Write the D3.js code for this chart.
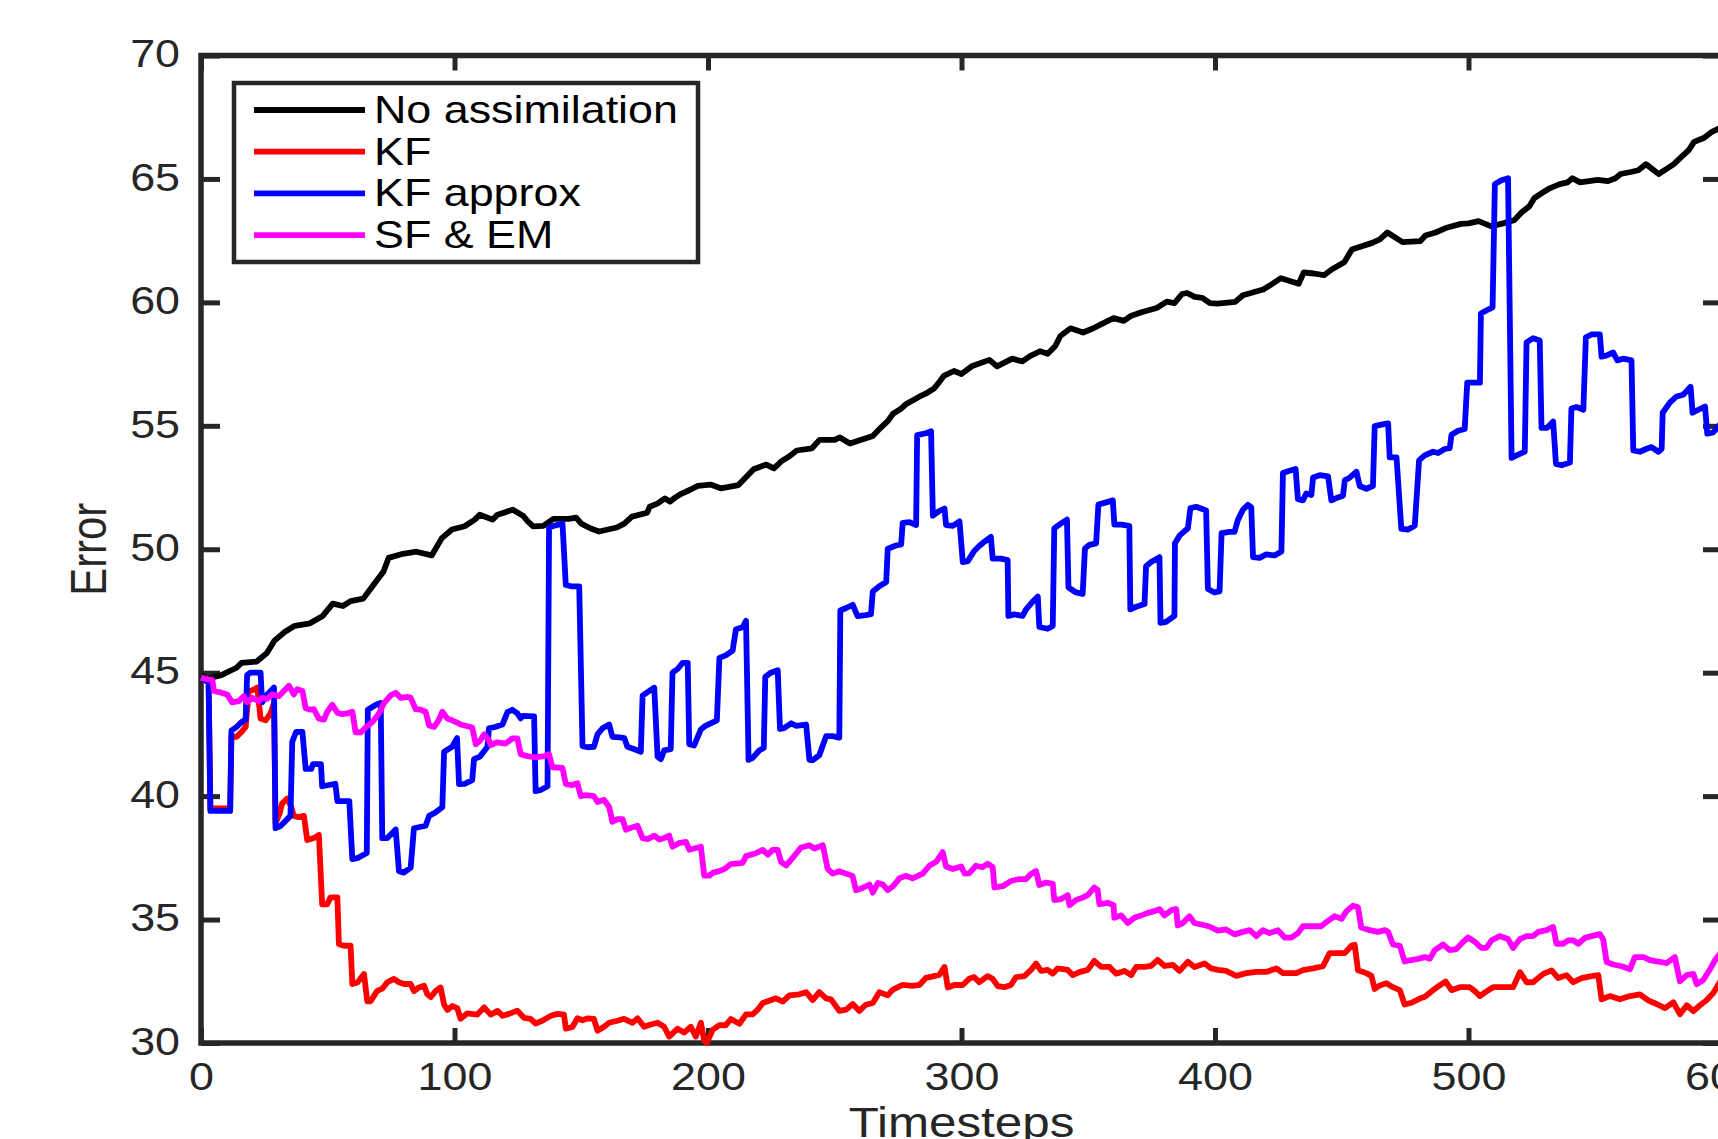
<!DOCTYPE html>
<html>
<head>
<meta charset="utf-8">
<script src="https://cdn.jsdelivr.net/npm/d3@7"></script>
<style>
  body { margin: 0; background: #fff; }
  svg { display: block; }
</style>
</head>
<body>
<script>
// SVG size, matches the screenshot
var svgWidth = 1718;
var svgHeight = 1139;

// plot box (right edge sits just past the picture edge)
var plot = { left: 201, right: 1722, top: 55.5, bottom: 1043 };

// tick values
var xTicks = [0, 100, 200, 300, 400, 500, 600];
var yTicks = [30, 35, 40, 45, 50, 55, 60, 65, 70];

// legend labels, in plot order
var seriesNames = ["No assimilation", "KF", "KF approx", "SF & EM"];
var seriesColors = ["#000000", "#ff0000", "#0000ff", "#ff00ff"];

// [timestep, error]
var noAssimilation = [[0,44.9],[2,44.75],[8,44.9],[14,45.2],[16,45.4],[22,45.45],[26,45.8],[29,46.3],[33,46.65],[37,46.9],[43,47.0],[48,47.3],[52,47.8],[56,47.7],[59,47.9],[64,48.0],[68,48.55],[72,49.1],[74,49.65],[79,49.8],[85,49.9],[91,49.75],[95,50.45],[99,50.8],[104,50.93],[108,51.2],[110,51.4],[115,51.2],[117,51.4],[123,51.6],[127,51.36],[129,51.12],[131,50.93],[135,50.95],[139,51.23],[145,51.23],[148,51.28],[150,51.04],[154,50.83],[157,50.72],[164,50.88],[167,51.04],[170,51.32],[176,51.48],[177,51.72],[180,51.85],[183,52.06],[185,51.93],[187,52.09],[189,52.22],[193,52.41],[196,52.57],[201,52.62],[205,52.47],[212,52.6],[218,53.24],[223,53.43],[226,53.28],[229,53.57],[232,53.76],[235,54.0],[241,54.09],[244,54.43],[250,54.43],[252,54.53],[256,54.28],[265,54.59],[268,54.91],[271,55.2],[273,55.49],[276,55.68],[278,55.87],[283,56.16],[286,56.31],[289,56.5],[291,56.74],[293,57.02],[297,57.22],[300,57.1],[304,57.41],[311,57.67],[314,57.41],[320,57.72],[324,57.61],[327,57.82],[331,58.02],[334,57.92],[337,58.23],[339,58.64],[343,58.95],[348,58.78],[352,58.95],[355,59.11],[360,59.36],[364,59.25],[367,59.46],[371,59.6],[377,59.77],[381,60.03],[384,59.97],[387,60.34],[389,60.38],[392,60.22],[395,60.18],[398,59.97],[401,59.95],[408,60.02],[411,60.29],[419,60.52],[422,60.71],[426,60.98],[433,60.75],[435,61.21],[439,61.17],[443,61.1],[446,61.33],[451,61.63],[454,62.14],[462,62.41],[465,62.55],[468,62.83],[474,62.44],[481,62.48],[483,62.71],[487,62.83],[491,63.01],[497,63.18],[500,63.2],[504,63.29],[509,63.08],[514,63.21],[518,63.33],[521,63.65],[524,63.89],[526,64.23],[529,64.43],[532,64.62],[536,64.79],[539,64.86],[541,65.03],[544,64.86],[551,64.96],[555,64.91],[558,65.03],[560,65.2],[564,65.28],[567,65.35],[570,65.6],[575,65.2],[578,65.4],[581,65.6],[584,65.89],[587,66.18],[589,66.5],[593,66.67],[596,66.91],[600,67.1]];

var kf = [[0,44.8],[3,44.6],[3.7,39.5],[11.5,39.5],[12,42.4],[14,42.4],[16,42.6],[17.6,42.8],[18.9,44.26],[20.5,44.3],[22.2,44.4],[23.5,43.14],[25.5,43.07],[27.4,43.35],[28.8,43.77],[29.4,38.9],[31,39.3],[32,39.7],[34,39.9],[35.5,39.6],[36.6,39.2],[38.5,39.15],[40.6,39.2],[41.9,38.22],[44.5,38.3],[46.5,38.43],[47.8,35.62],[49.8,35.62],[51.1,35.9],[53.8,35.9],[54.4,34.0],[56.4,33.94],[59,33.94],[59.7,32.39],[61.7,32.45],[64.3,32.79],[65.6,31.69],[66.9,31.69],[69.5,32.11],[71.5,32.2],[73.5,32.46],[76.1,32.6],[78.1,32.46],[80.1,32.39],[82.7,32.39],[84,32.1],[86,32.25],[88,32.32],[89.3,31.97],[90.6,31.86],[92.6,32.11],[94.5,32.25],[95.9,31.55],[97.2,31.34],[99.1,31.5],[101.1,31.41],[102.4,30.98],[105,31.2],[109,31.15],[111.7,31.44],[114.3,31.15],[117,31.3],[119,31.1],[121.5,31.18],[124.8,31.31],[127.4,31.02],[130,30.98],[132,30.79],[134.6,30.9],[138,31.1],[140.6,31.18],[143.2,31.15],[143.9,30.58],[146.5,30.65],[148.5,31.0],[150.5,30.92],[152.4,31.0],[155,30.98],[156.4,30.5],[159,30.66],[161,30.82],[164.3,30.9],[166.9,30.98],[170.2,30.82],[172.2,31.0],[174.8,30.66],[177.4,30.75],[180.1,30.82],[182.7,30.66],[184.7,30.26],[188,30.58],[190.6,30.42],[193.2,30.66],[195.2,30.26],[197.2,30.82],[198.5,30.1],[199.5,30.0],[201.8,30.53],[204.5,30.72],[207,30.72],[209,30.97],[212.4,30.78],[215,31.16],[217.6,31.16],[219.6,31.35],[221.6,31.62],[224.9,31.74],[226.8,31.81],[229.5,31.68],[232.1,31.93],[236,31.97],[238.7,32.06],[241.3,31.74],[243.9,32.06],[246.6,31.81],[248.5,31.77],[251.8,31.3],[254.5,31.35],[257.1,31.58],[259.7,31.3],[262.3,31.55],[265,31.62],[267.6,32.06],[270.9,31.93],[272.9,32.16],[276.8,32.35],[280.7,32.31],[283.4,32.35],[286,32.64],[288.7,32.7],[291.3,32.77],[293.3,33.08],[294.6,32.25],[297.2,32.35],[300.5,32.35],[303,32.6],[305,32.67],[307,32.46],[310.3,32.71],[312.3,32.6],[314.3,32.3],[316.9,32.26],[319.5,32.35],[321.5,32.67],[324.8,32.71],[327.4,32.96],[329.4,33.22],[331.4,32.92],[334,32.96],[336,32.81],[337.9,33.02],[341.9,32.96],[343.9,32.75],[346.5,32.87],[349.8,32.96],[352.4,33.33],[355.1,33.08],[358.4,33.08],[361,32.81],[364.3,32.92],[366.9,32.75],[368.9,33.08],[372.2,33.08],[374.8,33.12],[377.4,33.37],[380.1,33.12],[383.4,33.16],[386,32.92],[389.3,33.29],[391.9,33.08],[395.9,33.22],[398.5,33.02],[401.1,32.96],[404.4,32.92],[408.4,32.72],[412.3,32.83],[416.3,32.88],[420.2,32.88],[424.2,33.02],[426.8,32.83],[429.4,32.83],[432.1,32.83],[434.7,32.95],[438.7,33.02],[442.6,33.11],[445.2,33.64],[448,33.64],[451.2,33.64],[453.8,33.94],[455.1,33.98],[456.4,32.95],[459.7,32.83],[461.7,32.72],[463,32.19],[465,32.33],[467.6,32.42],[470.2,32.26],[472.9,32.14],[474.8,31.56],[477.5,31.63],[480.8,31.8],[482.8,31.87],[486,32.14],[488.6,32.33],[491,32.49],[493.3,32.14],[496.6,32.26],[500.5,32.26],[502.5,32.1],[504.5,31.9],[506.5,32.05],[509.7,32.26],[513.7,32.26],[517.6,32.26],[520.3,32.87],[522.9,32.46],[525.5,32.46],[529.5,32.8],[532.8,32.94],[535.4,32.63],[538.7,32.75],[541.3,32.46],[544.6,32.63],[548,32.7],[551.2,32.75],[552.5,31.77],[555.8,31.9],[559.7,31.77],[563.7,31.9],[567.6,31.97],[570.9,31.73],[574.2,31.58],[577.5,31.41],[580.8,31.65],[583.4,31.17],[586.1,31.53],[588.7,31.29],[591.3,31.53],[593.9,31.73],[596.5,32.02],[599.1,32.46],[600,32.6]];

var kfApprox = [[0,44.8],[3,44.6],[3.7,39.4],[6,39.4],[11.5,39.4],[12,42.65],[14,42.8],[16,43.0],[17.6,43.1],[18.2,44.9],[19.5,45.0],[23.5,45.0],[24.1,43.8],[26,44.1],[28.8,44.4],[29.4,38.7],[31.5,38.8],[35.3,39.2],[36,42.2],[37.5,42.6],[40,42.6],[41.3,41.1],[43.5,41.1],[44.2,41.3],[47.3,41.3],[47.8,40.4],[50.5,40.45],[53,40.5],[53.8,39.8],[58.5,39.8],[59.7,37.45],[62,37.5],[65.4,37.7],[65.8,43.5],[69,43.7],[70.9,43.77],[71.5,38.3],[73.5,38.3],[76.8,38.65],[78.1,36.96],[80,36.9],[82.7,37.1],[84,38.7],[88.6,38.8],[90,39.2],[92.6,39.35],[95.2,39.55],[95.9,41.8],[99.1,42.0],[101,42.35],[101.8,40.49],[104,40.5],[107,40.65],[107.7,41.5],[110,41.6],[111.5,41.8],[113,42.0],[113.6,42.75],[116,42.8],[118.9,42.9],[120.9,43.4],[122.8,43.5],[124.8,43.35],[126.1,43.15],[127,43.25],[131.4,43.23],[132,40.2],[134,40.25],[136.7,40.4],[137.3,50.88],[139.3,50.95],[142.6,51.04],[143.9,48.55],[146,48.5],[149.2,48.5],[150.5,42.02],[152.5,41.98],[155,42.0],[156.4,42.5],[158.4,42.75],[161,42.9],[162.3,42.4],[165,42.38],[167,42.35],[168.2,42.0],[171,41.9],[173.5,41.8],[174.2,44.07],[176,44.2],[178.8,44.39],[180.1,41.6],[181.4,41.5],[182.7,41.85],[185.3,41.9],[186,45.0],[188,45.15],[190,45.4],[192,45.4],[192.6,42.1],[194.5,42.05],[197.2,42.7],[199,42.85],[203.5,43.07],[204.5,45.6],[207,45.7],[209.7,45.89],[211,46.75],[213.7,46.85],[215,47.1],[216,41.47],[217.6,41.55],[220.3,41.86],[222,41.95],[222.6,44.83],[224.8,45.0],[227.5,45.1],[228.4,42.72],[230,42.75],[232.8,42.95],[234.7,42.85],[238.7,42.9],[240,41.47],[241.3,41.45],[243.9,41.66],[246.6,42.43],[249.2,42.43],[251.8,42.37],[252.2,47.52],[254.5,47.62],[257.1,47.75],[259,47.29],[262.3,47.33],[264.3,47.37],[265,48.29],[267.6,48.5],[270.3,48.67],[270.9,50.02],[274.2,50.15],[276.2,50.2],[276.8,51.07],[279.5,51.1],[282.1,50.98],[282.5,54.62],[286,54.7],[288,54.78],[288.7,51.36],[291.3,51.55],[293.3,51.65],[293.9,50.98],[296.6,50.95],[299.2,51.13],[300.5,49.48],[302.5,49.52],[305,49.93],[307,50.13],[309,50.3],[311.6,50.5],[312.3,49.62],[315.6,49.62],[318.2,49.56],[318.5,47.3],[320.8,47.36],[324.1,47.3],[325.4,47.55],[328.1,47.88],[330.1,48.08],[330.7,46.85],[334,46.78],[336,46.89],[336.6,50.85],[339.3,51.05],[341.6,51.2],[342.2,48.45],[345.2,48.25],[347.8,48.19],[348.7,50.03],[350.5,50.18],[353.1,50.24],[354,51.81],[356.4,51.88],[359.7,51.98],[360.3,51.0],[363,51.0],[366.2,50.95],[366.6,47.57],[368.9,47.67],[372.2,47.78],[372.8,49.31],[374.8,49.48],[378.1,49.68],[378.5,47.02],[380.7,47.06],[384,47.3],[384.2,50.24],[386,50.55],[389.3,50.85],[390.3,51.67],[392.6,51.72],[396.5,51.57],[397.2,48.39],[399.8,48.25],[401.8,48.29],[402.6,50.65],[405.8,50.7],[407.7,50.7],[409,51.18],[411,51.6],[413,51.8],[414.3,51.7],[415,49.68],[417.6,49.65],[420.2,49.79],[423.5,49.75],[426.2,49.91],[426.8,53.09],[429.4,53.18],[431.8,53.25],[432.7,52.03],[434.7,51.98],[436,52.26],[438,52.2],[438.7,52.91],[441.3,53.0],[444.6,52.95],[445.9,51.98],[448.5,52.1],[450.5,52.17],[451.2,52.79],[453.1,52.9],[455.8,53.14],[457.1,52.56],[459.7,52.45],[462.3,52.56],[463,54.99],[465.6,55.05],[468.3,55.1],[468.9,53.72],[471.6,53.72],[473.5,50.83],[476.2,50.8],[478.8,50.95],[480.5,53.6],[482.7,53.8],[486,53.95],[488,53.9],[490.6,54.06],[492.6,54.1],[493.3,54.64],[495.9,54.8],[498.5,54.87],[499.5,56.75],[502,56.75],[504.5,56.75],[504.9,59.55],[507,59.67],[509.5,59.8],[510.4,64.79],[513,64.95],[515.6,65.03],[517,53.7],[519,53.8],[522.2,53.95],[522.9,58.38],[525.5,58.55],[528.1,58.46],[528.8,54.92],[531,54.92],[533.4,55.17],[534.5,53.46],[536.7,53.4],[540,53.51],[540.6,55.7],[542.6,55.76],[545.3,55.65],[546.3,58.58],[548.5,58.7],[551.8,58.7],[552.5,57.8],[554.5,57.85],[557.1,57.97],[558.7,57.65],[561,57.72],[564.3,57.65],[565,54.0],[567.6,53.95],[570.3,54.07],[572.2,54.14],[574.9,53.95],[576.2,54.07],[576.6,55.53],[579.5,55.95],[582.1,56.19],[584.7,56.26],[587.6,56.58],[588.4,55.53],[590.7,55.65],[593.3,55.78],[594.2,54.68],[596.5,54.73],[599.1,55.04],[600,55.2]];

var sfEm = [[0,44.8],[1.8,44.75],[4.5,44.7],[5.1,44.26],[7.7,44.2],[10.3,44.12],[12.3,43.8],[14.9,43.85],[16.9,44.05],[18.2,43.8],[20.2,43.98],[22.8,43.84],[24.1,43.98],[26.1,43.94],[28.1,44.12],[30.7,44.05],[32.7,44.26],[34.7,44.47],[36.6,44.12],[38,44.33],[40,44.26],[41.3,43.56],[43.2,43.5],[44.5,43.52],[46.5,43.14],[48.5,43.1],[49.8,43.42],[51.8,43.7],[53.8,43.38],[55.7,43.32],[57.7,43.35],[59.7,43.42],[61,42.58],[63,42.58],[65,42.79],[67.6,43.0],[70.2,43.35],[72.2,43.77],[74.8,44.08],[76.8,44.19],[78.8,43.98],[81.4,44.02],[82.7,43.98],[84.7,43.52],[86.6,43.5],[88.6,43.42],[90,42.86],[92,42.8],[93.9,43.1],[95.2,43.42],[97.2,43.14],[99.1,43.07],[101,42.98],[102.4,42.9],[107,42.78],[108.4,42.1],[110.3,42.27],[111.7,42.5],[113.6,42.27],[114.3,42.07],[116.9,42.18],[120.2,42.13],[122.8,42.34],[124.8,42.34],[126.1,41.7],[128.7,41.62],[132,41.57],[135.3,41.62],[137.3,41.7],[138.6,41.17],[142.6,41.14],[143.9,40.49],[146.5,40.45],[148.5,40.52],[149.8,40.0],[151.8,40.04],[155,40.0],[156.4,39.76],[159,39.85],[161,39.56],[162.3,38.96],[164.3,39.07],[166.3,39.07],[167.6,38.64],[169.6,38.72],[172.2,38.8],[174.2,38.3],[176.2,38.26],[178.8,38.4],[180.8,38.24],[182.7,38.3],[184.7,38.4],[186,37.95],[188.6,38.1],[191.3,38.15],[192.6,37.83],[195.2,37.9],[197.2,37.95],[198.5,36.78],[200.5,36.78],[202,36.9],[204.5,36.96],[206.5,37.05],[209,37.25],[213.7,37.3],[215,37.57],[218.9,37.69],[221.6,37.82],[223.6,37.63],[225.5,37.82],[227.5,37.82],[228.8,37.34],[230.8,37.19],[233.4,37.5],[236.7,37.92],[240,38.01],[242,37.88],[245.3,38.01],[247.2,37.05],[249.2,36.86],[251.8,36.96],[254.5,36.86],[257,36.77],[258.4,36.19],[261,36.28],[263.7,36.42],[265,36.09],[267,36.48],[269,36.42],[270.9,36.19],[272.9,36.34],[275.5,36.67],[278.1,36.77],[280.7,36.67],[284.7,36.86],[287.4,37.19],[290,37.34],[292.6,37.73],[293.9,37.15],[296.6,37.05],[299.9,37.15],[301.2,36.86],[303,36.87],[305.7,37.18],[308.3,37.12],[310.3,37.26],[312.3,37.12],[313,36.3],[316.3,36.35],[319.5,36.56],[322.8,36.64],[325.5,36.64],[327.4,36.85],[329.4,36.97],[330.7,36.4],[333.4,36.5],[336,36.45],[336.6,35.79],[339.3,35.83],[341.9,35.99],[342.6,35.58],[345.2,35.79],[347.8,35.89],[349.8,35.99],[352.4,36.3],[353.7,36.2],[354.4,35.62],[357.7,35.68],[360,35.58],[360.3,35.07],[363,35.17],[365.6,34.86],[368.2,35.07],[370.9,35.17],[373.5,35.27],[376.1,35.34],[378.1,35.42],[380.1,35.17],[382.7,35.38],[384.7,35.42],[385.3,34.76],[387.3,34.86],[389.9,35.13],[391.9,34.86],[394.5,34.8],[397.8,34.72],[401.1,34.55],[404.4,34.6],[407.7,34.4],[411,34.5],[413.7,34.57],[416.3,34.33],[418.9,34.57],[421.5,34.45],[424.8,34.57],[427.5,34.27],[430.1,34.27],[432.7,34.45],[434.7,34.73],[438.7,34.73],[441.9,34.73],[443.9,34.9],[447.2,35.14],[449.9,35.03],[451.8,35.33],[454.4,35.56],[456.4,35.5],[457.7,34.68],[461,34.57],[464.3,34.5],[467,34.57],[468.3,34.5],[470.2,33.99],[472.9,33.94],[474.8,33.3],[476.8,33.35],[480.1,33.41],[482.8,33.48],[484.7,33.41],[486.7,33.76],[490,33.99],[492.6,33.76],[495.2,33.8],[497.9,34.1],[499.8,34.27],[502.5,34.1],[504,33.95],[505.1,33.85],[507,33.85],[509.1,34.16],[512.3,34.33],[515.6,34.21],[517.6,33.85],[520.3,34.21],[522.9,34.33],[525.5,34.33],[527.5,34.5],[530.8,34.57],[533.4,34.7],[534.7,34.02],[537.3,34.02],[539.3,34.16],[541.3,34.16],[543.3,34.02],[545.9,34.26],[548.5,34.33],[551.8,34.41],[553.1,34.2],[554.5,33.28],[557.1,33.18],[560.4,33.11],[563.7,32.99],[565.6,33.48],[569,33.48],[571.6,33.36],[574.9,33.3],[578.1,33.24],[581.4,33.48],[583.4,32.5],[586.1,32.75],[588.7,32.8],[590,32.38],[592.6,32.55],[595.3,32.99],[597.2,33.35],[599.1,33.6],[600,33.75]];

var allSeries = [noAssimilation, kf, kfApprox, sfEm];

// the original figure is a little wider than tall in its glyphs
var textStretch = 1.18;
var fontFamily = "'Liberation Sans', Arial, Helvetica, sans-serif";
var axisColor = "#262626";

var svg = d3.select("body")
  .append("svg")
  .attr("width", svgWidth)
  .attr("height", svgHeight);

// scales
var xScale = d3.scaleLinear()
  .domain([0, 600])
  .range([plot.left, plot.right]);

var yScale = d3.scaleLinear()
  .domain([30, 70])
  .range([plot.bottom, plot.top]);

// box around the axes
svg.append("rect")
  .attr("x", plot.left)
  .attr("y", plot.top)
  .attr("width", plot.right - plot.left)
  .attr("height", plot.bottom - plot.top)
  .attr("fill", "none")
  .attr("stroke", axisColor)
  .attr("stroke-width", 5.5);

// axes, ticks pointing inward
function styleAxis(g) {
  g.attr("font-family", fontFamily);
  g.select(".domain").remove();
  g.selectAll(".tick line")
    .attr("stroke", axisColor)
    .attr("stroke-width", 5);
}

var bottomAxis = svg.append("g")
  .attr("transform", `translate(0, ${plot.bottom})`)
  .call(d3.axisBottom(xScale).tickValues(xTicks).tickSizeInner(-15).tickSizeOuter(0))
  .call(styleAxis);

bottomAxis.selectAll(".tick text")
  .attr("x", 0)
  .attr("y", 0)
  .attr("dy", 0)
  .attr("font-size", 38)
  .attr("fill", axisColor)
  .attr("transform", `translate(0, 46.5) scale(${textStretch}, 1)`);

var leftAxis = svg.append("g")
  .attr("transform", `translate(${plot.left}, 0)`)
  .call(d3.axisLeft(yScale).tickValues(yTicks).tickSizeInner(-19).tickSizeOuter(0))
  .call(styleAxis);

leftAxis.selectAll(".tick text")
  .attr("x", 0)
  .attr("y", 0)
  .attr("dy", "0.35em")
  .attr("font-size", 38)
  .attr("fill", axisColor)
  .attr("transform", `translate(-21, -2) scale(${textStretch}, 1)`);

svg.append("g")
  .attr("transform", `translate(0, ${plot.top})`)
  .call(d3.axisTop(xScale).tickValues(xTicks).tickSizeInner(-15).tickSizeOuter(0).tickFormat(""))
  .call(styleAxis);

svg.append("g")
  .attr("transform", `translate(${plot.right}, 0)`)
  .call(d3.axisRight(yScale).tickValues(yTicks).tickSizeInner(-19).tickSizeOuter(0).tickFormat(""))
  .call(styleAxis);

// axis titles
svg.append("text")
  .attr("transform", `translate(${xScale(300)}, 1137) scale(${textStretch}, 1)`)
  .attr("text-anchor", "middle")
  .attr("font-family", fontFamily)
  .attr("font-size", 41.8)
  .attr("fill", axisColor)
  .text("Timesteps");

svg.append("text")
  .attr("transform", `translate(106, ${(plot.top + plot.bottom) / 2}) scale(${textStretch}, 1) rotate(-90)`)
  .attr("text-anchor", "middle")
  .attr("font-family", fontFamily)
  .attr("font-size", 41.8)
  .attr("fill", axisColor)
  .text("Error");

// data lines
var line = d3.line()
  .x(d => xScale(d[0]))
  .y(d => yScale(d[1]));

svg.append("g")
  .selectAll("path")
  .data(allSeries)
  .enter()
  .append("path")
  .attr("d", line)
  .attr("fill", "none")
  .attr("stroke", (d, i) => seriesColors[i])
  .attr("stroke-width", 5.8)
  .attr("stroke-linejoin", "round");

// legend
var legend = svg.append("g");

legend.append("rect")
  .attr("x", 234)
  .attr("y", 83)
  .attr("width", 464)
  .attr("height", 179)
  .attr("fill", "#fff")
  .attr("stroke", axisColor)
  .attr("stroke-width", 4.5);

var legendRows = legend.selectAll(".row")
  .data(seriesNames)
  .enter()
  .append("g")
  .attr("class", "row")
  .attr("transform", (d, i) => `translate(0, ${110 + i * 41.7})`);

legendRows.append("line")
  .attr("x1", 254)
  .attr("x2", 365)
  .attr("stroke", (d, i) => seriesColors[i])
  .attr("stroke-width", 5.8);

legendRows.append("text")
  .attr("transform", `translate(374, 0) scale(${textStretch}, 1)`)
  .attr("dy", "0.34em")
  .attr("font-family", fontFamily)
  .attr("font-size", 38)
  .attr("fill", "#000")
  .text(d => d);
</script>
</body>
</html>
